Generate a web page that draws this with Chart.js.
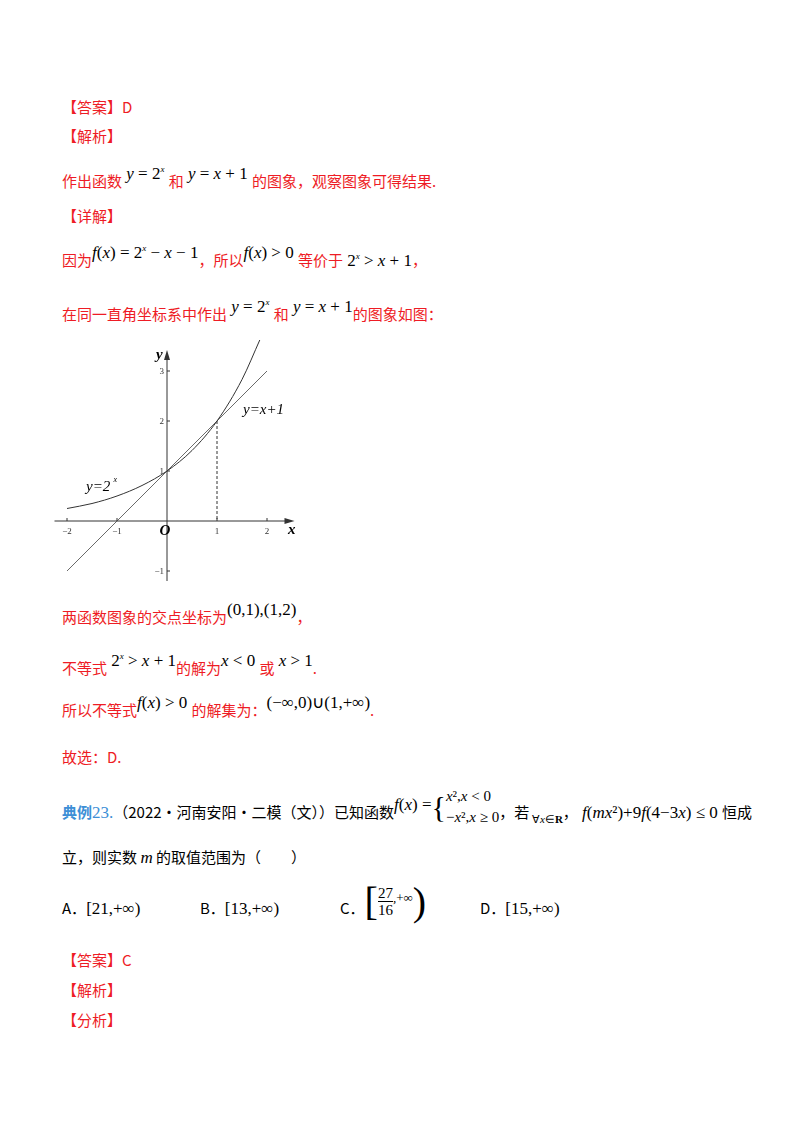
<!DOCTYPE html>
<html>
<head>
<meta charset="utf-8">
<script src="https://cdn.jsdelivr.net/npm/chart.js@4"></script>
<style>
  body { margin: 0; width: 800px; height: 1132px; background: #fff; position: relative;
         font-family: "Noto Sans CJK SC", sans-serif; font-size: 15px; color: #000; }
  .t { position: absolute; white-space: nowrap; line-height: 20px; }
  .r { color: #ee1c25; }
  .m { font-family: "Liberation Serif", serif; font-size: 17px; color: #000; }
  .i { font-style: italic; }
  .up { position: relative; top: -8px; }
  .blue { color: #3d8fd6; }
  .ib { display: inline-block; vertical-align: middle; }
  #wrap { position: absolute; left: 50px; top: 340px; }
</style>
</head>
<body>
<div class="t r" style="left:62px;top:97px">【答案】D</div>
<div class="t r" style="left:62px;top:126px">【解析】</div>
<div class="t r" style="left:62px;top:167px">作出函数<span class="m up"> <span class="i">y</span> = 2<sup style="font-size:9px"><i>x</i></sup> </span>和<span class="m up"> <span class="i">y</span> = <span class="i">x</span> + 1 </span>的图象，观察图象可得结果.</div>
<div class="t r" style="left:62px;top:206px">【详解】</div>
<div class="t r" style="left:62px;top:246px">因为<span class="m up"><span class="i">f</span>(<span class="i">x</span>) = 2<sup style="font-size:9px"><i>x</i></sup> − <span class="i">x</span> − 1</span>，所以<span class="m up"><span class="i">f</span>(<span class="i">x</span>) &gt; 0 </span>等价于<span class="m"> 2<sup style="font-size:9px"><i>x</i></sup> &gt; <span class="i">x</span> + 1</span>，</div>
<div class="t r" style="left:62px;top:300px">在同一直角坐标系中作出<span class="m up"> <span class="i">y</span> = 2<sup style="font-size:9px"><i>x</i></sup> </span>和<span class="m up"> <span class="i">y</span> = <span class="i">x</span> + 1</span>的图象如图：</div>

<div id="wrap"><canvas id="c" width="260" height="250"></canvas></div>

<div class="t r" style="left:62px;top:607px">两函数图象的交点坐标为<span class="m up">(0,1),(1,2)</span>，</div>
<div class="t r" style="left:62px;top:654px">不等式<span class="m up"> 2<sup style="font-size:9px"><i>x</i></sup> &gt; <span class="i">x</span> + 1</span>的解为<span class="m up"><span class="i">x</span> &lt; 0 </span>或<span class="m up"> <span class="i">x</span> &gt; 1</span>.</div>
<div class="t r" style="left:62px;top:700px">所以不等式<span class="m up"><span class="i">f</span>(<span class="i">x</span>) &gt; 0 </span>的解集为：<span class="m up">(−∞,0)∪(1,+∞)</span>.</div>
<div class="t r" style="left:62px;top:747px">故选：D.</div>
<div class="t" style="left:62px;top:800px"><span class="blue" style="font-weight:bold">典例</span><span class="blue m" style="color:#3d8fd6">23.</span>（2022·河南安阳·二模（文））已知函数<span class="m up"><span class="i">f</span>(<span class="i">x</span>) =</span><span class="ib m" style="font-size:30px;font-weight:100;line-height:34px;margin-top:-14px">{</span><span class="ib m" style="font-size:15px;line-height:21px;margin-top:-14px"><i>x</i>²,<i>x</i> &lt; 0<br>−<i>x</i>²,<i>x</i> ≥ 0</span>，若<span class="m" style="font-size:11px;position:relative;top:5px"> ∀<i>x</i>∈<b>R</b></span>，<span class="m"> <i>f</i>(<i>mx</i>²)+9<i>f</i>(4−3<i>x</i>) ≤ 0 </span>恒成</div>
<div class="t" style="left:62px;top:847px">立，则实数 <span class="m i">m</span> 的取值范围为（　　）</div>
<div class="t" style="left:62px;top:898px">A．<span class="m">[21,+∞)</span></div>
<div class="t" style="left:200px;top:898px">B．<span class="m">[13,+∞)</span></div>
<div class="t" style="left:340px;top:898px">C．<span class="ib m" style="font-size:40px;font-weight:100;line-height:40px;margin-top:-16px">[</span><span class="ib m" style="text-align:center;line-height:17px;font-size:15px;margin-top:-16px">27<br><span style="border-top:1px solid #000">16</span></span><span class="ib m" style="font-size:13px;margin-top:-24px">,+∞</span><span class="ib m" style="font-size:40px;font-weight:100;line-height:40px;margin-top:-16px">)</span></div>
<div class="t" style="left:480px;top:898px">D．<span class="m">[15,+∞)</span></div>
<div class="t r" style="left:62px;top:950px">【答案】C</div>
<div class="t r" style="left:62px;top:980px">【解析】</div>
<div class="t r" style="left:62px;top:1010px">【分析】</div>

<script>
// points
const expX = [-2, -1.5, -1, -0.5, 0, 0.5, 1, 1.5, 1.86];
const expY = [0.25, 0.35, 0.5, 0.71, 1, 1.41, 2, 2.83, 3.63];
const lineX = [-2, 2];
const lineY = [-1, 3];
const xTicks = [-2, -1, 1, 2];
const yTicks = [-1, 1, 2, 3];

const toPts = (xs, ys) => xs.map((x, i) => ({ x: x, y: ys[i] }));

// axes, ticks and labels drawn on the scales
const axesPlugin = {
    id: 'axes',
    beforeDatasetsDraw(chart) {
        const ctx = chart.ctx;
        const sx = chart.scales.x, sy = chart.scales.y;
        const X = v => sx.getPixelForValue(v), Y = v => sy.getPixelForValue(v);
        ctx.save();
        ctx.strokeStyle = '#333';
        ctx.fillStyle = '#333';
        ctx.lineWidth = 1;
        ctx.beginPath();
        ctx.moveTo(X(-2.25), Y(0)); ctx.lineTo(X(2.45), Y(0));
        ctx.moveTo(X(0), Y(-1.2)); ctx.lineTo(X(0), Y(3.3));
        ctx.stroke();
        // arrows
        ctx.beginPath();
        ctx.moveTo(X(2.55), Y(0)); ctx.lineTo(X(2.35), Y(0) - 3); ctx.lineTo(X(2.35), Y(0) + 3); ctx.fill();
        ctx.beginPath();
        ctx.moveTo(X(0), Y(3.42)); ctx.lineTo(X(0) - 3, Y(3.22)); ctx.lineTo(X(0) + 3, Y(3.22)); ctx.fill();
        ctx.font = '9px "Liberation Serif"';
        ctx.textAlign = 'center';
        xTicks.forEach(t => {
            ctx.beginPath(); ctx.moveTo(X(t), Y(0)); ctx.lineTo(X(t), Y(0) - 3); ctx.stroke();
            ctx.fillText(t < 0 ? '−' + (-t) : String(t), X(t), Y(0) + 13);
        });
        ctx.textAlign = 'right';
        yTicks.forEach(t => {
            ctx.beginPath(); ctx.moveTo(X(0), Y(t)); ctx.lineTo(X(0) + 3, Y(t)); ctx.stroke();
            ctx.fillText(t < 0 ? '−' + (-t) : String(t), X(0) - 3, Y(t) + 3);
        });
        // dashed drop line at x = 1
        ctx.setLineDash([3, 2]);
        ctx.beginPath(); ctx.moveTo(X(1), Y(2)); ctx.lineTo(X(1), Y(0)); ctx.stroke();
        ctx.setLineDash([]);
        ctx.fillStyle = '#000';
        ctx.font = 'bold italic 15px "Liberation Serif"';
        ctx.textAlign = 'left';
        ctx.fillText('O', X(-0.15), Y(-0.28));
        ctx.fillText('x', X(2.42), Y(-0.25));
        ctx.fillText('y', X(-0.22), Y(3.25));
        ctx.font = 'italic 15px "Liberation Serif"';
        ctx.fillText('y=2', X(-1.62), Y(0.6));
        ctx.font = 'italic 8px "Liberation Serif"';
        ctx.fillText('x', X(-1.07), Y(0.79));
        ctx.font = 'italic 15px "Liberation Serif"';
        ctx.fillText('y=x+1', X(1.52), Y(2.14));
        ctx.restore();
    }
};

new Chart(document.getElementById('c'), {
    type: 'scatter',
    data: {
        datasets: [
            { data: toPts(expX, expY), showLine: true, borderColor: '#333', borderWidth: 1,
              pointRadius: 0, cubicInterpolationMode: 'monotone' },
            { data: toPts(lineX, lineY), showLine: true, borderColor: '#444', borderWidth: 0.8,
              pointRadius: 0 }
        ]
    },
    options: {
        responsive: false,
        animation: false,
        layout: { padding: 0 },
        plugins: { legend: { display: false }, tooltip: { enabled: false } },
        scales: {
            x: { type: 'linear', min: -2.34, max: 2.86, display: false },
            y: { type: 'linear', min: -1.38, max: 3.62, display: false }
        }
    },
    plugins: [axesPlugin]
});
</script>
</body>
</html>
